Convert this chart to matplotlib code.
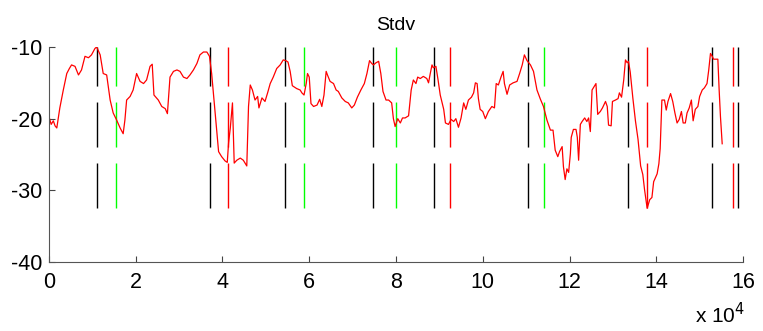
import matplotlib
matplotlib.use("Agg")
import matplotlib.pyplot as plt

plt.rcParams['font.family'] = ['Liberation Sans', 'DejaVu Sans']
plt.rcParams['lines.scale_dashes'] = False
plt.rcParams['axes.unicode_minus'] = False

# sample index (x 10^4) and the Stdv trace
x_k = [0.00, 0.05, 0.10, 0.14, 0.18, 0.25, 0.33, 0.41, 0.47, 0.52, 0.60, 0.68, 0.75, 0.83, 0.91, 0.98,
       1.06, 1.10, 1.18, 1.25, 1.33, 1.41, 1.48, 1.56, 1.64, 1.71, 1.75, 1.79, 1.87, 1.94, 2.02, 2.10,
       2.18, 2.25, 2.33, 2.38, 2.42, 2.52, 2.60, 2.68, 2.73, 2.79, 2.87, 2.95, 3.02, 3.10, 3.18, 3.25,
       3.33, 3.41, 3.48, 3.56, 3.64, 3.70, 3.75, 3.79, 3.85, 3.91, 3.98, 4.06, 4.11, 4.14, 4.18, 4.23,
       4.27, 4.33, 4.41, 4.48, 4.56, 4.60, 4.64, 4.69, 4.75, 4.81, 4.84, 4.91, 4.98, 5.04, 5.10, 5.17,
       5.25, 5.33, 5.40, 5.46, 5.51, 5.56, 5.61, 5.71, 5.79, 5.83, 5.88, 5.93, 5.96, 6.00, 6.04, 6.10,
       6.18, 6.24, 6.29, 6.34, 6.39, 6.42, 6.48, 6.56, 6.62, 6.67, 6.75, 6.83, 6.90, 6.98, 7.04, 7.11,
       7.19, 7.27, 7.33, 7.39, 7.44, 7.48, 7.54, 7.60, 7.65, 7.70, 7.77, 7.83, 7.90, 7.94, 7.98, 8.04,
       8.10, 8.15, 8.21, 8.29, 8.35, 8.40, 8.46, 8.50, 8.56, 8.63, 8.71, 8.75, 8.79, 8.83, 8.86, 8.92,
       8.97, 9.02, 9.10, 9.14, 9.21, 9.27, 9.33, 9.38, 9.44, 9.50, 9.56, 9.61, 9.67, 9.74, 9.79, 9.83,
       9.87, 9.90, 9.94, 10.00, 10.06, 10.13, 10.21, 10.27, 10.31, 10.36, 10.42, 10.47, 10.50, 10.56,
       10.62, 10.70, 10.79, 10.85, 10.91, 10.96, 11.02, 11.10, 11.17, 11.25, 11.33, 11.40, 11.48, 11.56,
       11.62, 11.67, 11.73, 11.77, 11.83, 11.86, 11.90, 11.94, 11.98, 12.02, 12.04, 12.09, 12.15, 12.18,
       12.21, 12.25, 12.29, 12.35, 12.40, 12.44, 12.48, 12.52, 12.57, 12.61, 12.65, 12.71, 12.76, 12.83,
       12.87, 12.90, 12.96, 12.99, 13.06, 13.12, 13.15, 13.20, 13.25, 13.29, 13.33, 13.36, 13.40, 13.46,
       13.52, 13.58, 13.64, 13.69, 13.73, 13.79, 13.85, 13.90, 13.94, 14.02, 14.06, 14.09, 14.13, 14.19,
       14.23, 14.27, 14.33, 14.38, 14.43, 14.48, 14.53, 14.58, 14.62, 14.67, 14.71, 14.76, 14.81, 14.85,
       14.90, 14.96, 15.00, 15.06, 15.11, 15.17, 15.21, 15.25, 15.29, 15.32, 15.42, 15.45, 15.48, 15.52]
stdv = [-19.7, -20.8, -20.3, -21.0, -21.3, -18.5, -16.0, -13.7, -13.0, -12.5, -12.7, -13.9, -13.2, -11.3, -11.5, -11.1,
        -10.2, -10.0, -11.1, -13.7, -13.9, -17.4, -19.2, -20.2, -21.3, -22.1, -20.2, -17.4, -16.9, -16.0, -13.7, -14.8,
        -15.1, -14.6, -12.7, -12.4, -16.7, -17.4, -18.3, -18.6, -19.3, -14.2, -13.4, -13.2, -13.4, -14.2, -14.4, -13.9,
        -13.2, -12.3, -11.1, -10.7, -10.7, -11.3, -13.7, -16.4, -20.6, -24.6, -25.3, -25.9, -26.1, -23.4, -21.3, -17.8,
        -26.2, -25.8, -25.5, -25.8, -26.6, -18.3, -15.3, -16.0, -17.4, -16.9, -18.5, -17.1, -17.6, -16.4, -15.1, -14.2,
        -13.0, -12.5, -11.8, -11.9, -12.1, -13.4, -15.4, -15.8, -16.0, -16.4, -16.7, -15.1, -13.7, -14.2, -17.9, -18.3,
        -18.1, -17.3, -18.3, -16.7, -13.4, -13.9, -14.8, -15.1, -16.0, -16.2, -17.1, -17.6, -17.8, -18.5, -18.1, -17.0,
        -16.0, -15.1, -13.7, -11.9, -12.3, -12.5, -12.2, -12.0, -13.7, -16.2, -17.4, -17.4, -17.8, -20.0, -21.1, -20.0,
        -20.6, -19.9, -19.9, -19.6, -16.0, -14.6, -15.1, -14.2, -14.4, -14.1, -14.4, -15.0, -13.7, -12.5, -12.9, -12.7,
        -14.6, -16.7, -18.7, -20.6, -20.8, -20.1, -20.4, -20.0, -21.2, -19.9, -17.8, -18.7, -17.4, -17.0, -16.4, -15.0,
        -15.1, -17.2, -18.7, -19.0, -20.0, -19.0, -18.3, -18.5, -15.1, -15.3, -14.2, -13.4, -15.1, -16.6,
        -15.3, -15.0, -14.8, -13.7, -12.5, -11.1, -11.9, -12.5, -13.4, -16.0, -17.3, -18.3, -20.2, -21.6,
        -21.6, -24.4, -25.3, -24.6, -23.9, -26.7, -28.5, -27.0, -27.5, -24.9, -22.6, -21.5, -21.5, -22.6,
        -25.8, -20.8, -20.4, -19.9, -20.4, -19.9, -21.8, -16.0, -15.5, -15.1, -19.4, -19.0, -18.5, -17.6,
        -18.3, -20.9, -21.0, -17.6, -17.4, -17.2, -16.4, -17.0, -14.6, -11.8, -12.2, -12.0, -13.5, -17.1,
        -20.3, -22.9, -26.6, -27.8, -29.9, -32.5, -31.3, -31.0, -28.8, -27.7, -26.3, -24.2, -17.4, -17.4,
        -18.8, -17.6, -16.5, -17.6, -19.2, -20.6, -20.1, -19.0, -20.6, -20.6, -19.2, -18.5, -17.4, -20.3,
        -18.7, -18.3, -16.9, -16.0, -15.7, -15.1, -13.2, -10.9, -11.3, -11.7, -11.7, -16.0, -19.7, -23.5]

# event markers (x 10^4) and their colours
event_x = [1.10, 1.55, 3.72, 4.13, 5.45, 5.89, 7.48, 8.00, 8.88, 9.25,
           11.05, 11.42, 13.36, 13.79, 15.29, 15.77, 15.89]
event_c = ['k', 'lime', 'k', 'r', 'k', 'lime', 'k', 'lime', 'k', 'r',
           'k', 'lime', 'k', 'r', 'k', 'r', 'k']

xticks = [0, 2, 4, 6, 8, 10, 12, 14, 16]
yticks = [-40, -30, -20, -10]

fig = plt.figure(figsize=(7.63, 3.31), dpi=100)
ax = fig.add_axes([0.0642, 0.2085, 0.9096, 0.6495])

ax.vlines([v * 1e4 for v in event_x], -32.4, -10, colors=event_c,
          linewidth=1, linestyles=(0, (32.4, 11.5)))
ax.plot([v * 1e4 for v in x_k], stdv, color='red', linewidth=0.9)

ax.set_xlim(0, 16e4)
ax.set_ylim(-40, -10)
ax.set_xticks([t * 1e4 for t in xticks])
ax.set_xticklabels([str(t) for t in xticks])
ax.set_yticks(yticks)
ax.tick_params(direction='in', length=4, labelsize=15.5, width=0.8, color='#444444')
ax.tick_params(axis='x', pad=7)
ax.tick_params(axis='y', pad=5)
for s in ['top', 'right']:
    ax.spines[s].set_visible(False)
for s in ['left', 'bottom']:
    ax.spines[s].set_color('#555555')
    ax.spines[s].set_linewidth(0.8)

ax.set_title('Stdv', fontsize=14, pad=12)
fig.text(695 / 763, 1 - 323 / 331, 'x 10$^{4}$', fontsize=15, ha='left', va='baseline')

fig.savefig('out.png', dpi=100)
